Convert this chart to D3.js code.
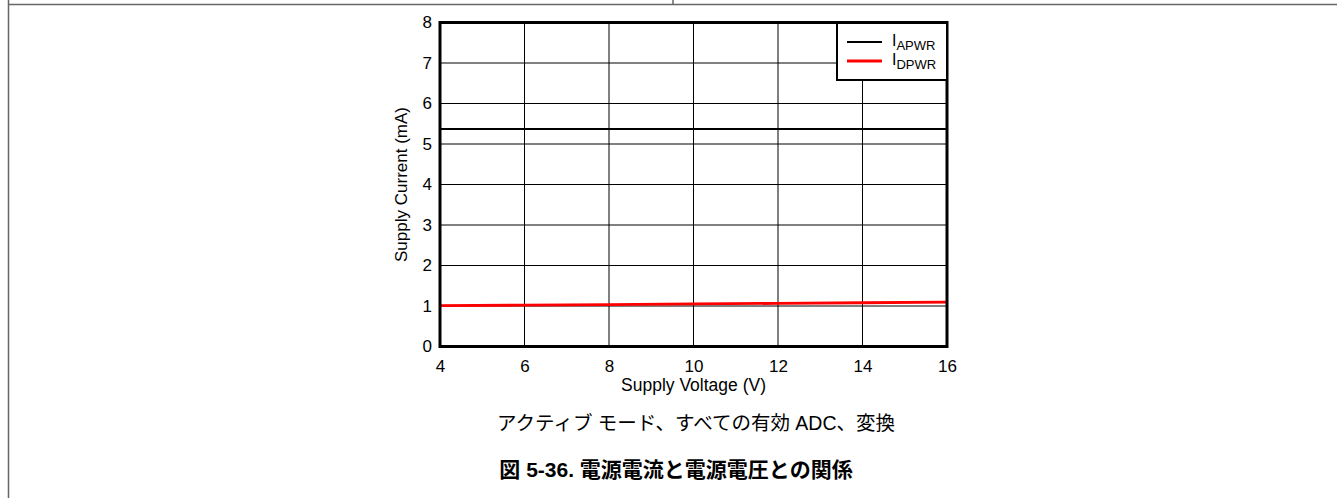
<!DOCTYPE html>
<html>
<head>
<meta charset="utf-8">
<script src="https://cdn.jsdelivr.net/npm/d3@7/dist/d3.min.js"></script>
<style>
  html, body { margin: 0; padding: 0; background: #fff; }
  svg { display: block; }
  text { font-family: "Liberation Sans", Arial, "Noto Sans CJK JP", sans-serif; fill: #000; }
</style>
</head>
<body>
<svg id="chart" width="1337" height="498"></svg>
<script>
// Supply current vs supply voltage
const voltages = [4, 6, 8, 10, 12, 14, 16];
const iApwr = [5.37, 5.37, 5.37, 5.37, 5.37, 5.37, 5.37];
const iDpwr = [1.01, 1.02, 1.035, 1.05, 1.065, 1.08, 1.095];
const xTicks = [4, 6, 8, 10, 12, 14, 16];
const yTicks = [0, 1, 2, 3, 4, 5, 6, 7, 8];
const seriesNames = [["I", "APWR"], ["I", "DPWR"]];
const seriesColors = ["#000000", "#ff0000"];
const xTitle = "Supply Voltage (V)";
const yTitle = "Supply Current (mA)";
const subCaption = "アクティブ モード、すべての有効 ADC、変換";
const figCaption = "図 5-36. 電源電流と電源電圧との関係";

const svg = d3.select("#chart");
const W = 1337, H = 498;

// document frame lines
const frame = svg.append("g").attr("stroke", "#666").attr("stroke-width", 1.5).attr("fill", "none");
frame.append("line").attr("x1", 9).attr("x2", W).attr("y1", 4.5).attr("y2", 4.5);
frame.append("line").attr("x1", 673).attr("x2", 673).attr("y1", 0).attr("y2", 4.5);
frame.append("line").attr("x1", 8.5).attr("x2", 8.5).attr("y1", 0).attr("y2", H);

const plot = { left: 440, right: 947, top: 22.5, bottom: 346.5 };
const x = d3.scaleLinear().domain([4, 16]).range([plot.left, plot.right]);
const y = d3.scaleLinear().domain([0, 8]).range([plot.bottom, plot.top]);

// grid
const grid = svg.append("g").attr("stroke", "#000").attr("stroke-width", 1);
grid.selectAll("line.v").data(xTicks.slice(1, -1)).join("line")
  .attr("x1", d => x(d)).attr("x2", d => x(d)).attr("y1", plot.top).attr("y2", plot.bottom);
grid.selectAll("line.h").data(yTicks.slice(1, -1)).join("line")
  .attr("x1", plot.left).attr("x2", plot.right).attr("y1", d => y(d)).attr("y2", d => y(d));

// axes (labels only, frame drawn as a box)
const xAxis = d3.axisBottom(x).tickValues(xTicks).tickSize(0).tickPadding(13).tickFormat(d3.format("d"));
const yAxis = d3.axisLeft(y).tickValues(yTicks).tickSize(0).tickPadding(8).tickFormat(d3.format("d"));
const gx = svg.append("g").attr("transform", `translate(0,${plot.bottom})`).call(xAxis);
const gy = svg.append("g").attr("transform", `translate(${plot.left},0)`).call(yAxis);
[gx, gy].forEach(g => {
  g.select(".domain").remove();
  g.selectAll("text").attr("font-size", 17).attr("fill", "#111")
    .style("font-family", '"Liberation Sans", Arial, sans-serif');
});

// series lines
const line = d3.line().x(d => x(d[0])).y(d => y(d[1]));
const series = [iApwr, iDpwr];
series.forEach((vals, i) => {
  svg.append("path")
    .datum(voltages.map((v, k) => [v, vals[k]]))
    .attr("d", line)
    .attr("fill", "none")
    .attr("stroke", seriesColors[i])
    .attr("stroke-width", i === 0 ? 2.2 : 2.8);
});

// plot frame
svg.append("rect")
  .attr("x", plot.left).attr("y", plot.top)
  .attr("width", plot.right - plot.left).attr("height", plot.bottom - plot.top)
  .attr("fill", "none").attr("stroke", "#000").attr("stroke-width", 3);

// legend
const lg = svg.append("g");
lg.append("rect").attr("x", 837).attr("y", 23).attr("width", 110).attr("height", 57)
  .attr("fill", "#fff").attr("stroke", "#000").attr("stroke-width", 2);
seriesNames.forEach((nm, i) => {
  const ly = 42 + i * 19;
  lg.append("line").attr("x1", 847).attr("x2", 882).attr("y1", ly).attr("y2", ly)
    .attr("stroke", seriesColors[i]).attr("stroke-width", i === 0 ? 2.2 : 2.8);
  const t = lg.append("text").attr("x", 892).attr("y", ly + 4).attr("font-size", 16).attr("fill", "#111");
  t.append("tspan").text(nm[0]);
  t.append("tspan").attr("dy", 4).attr("font-size", 13).text(nm[1]);
});

// axis titles
svg.append("text").attr("x", (plot.left + plot.right) / 2).attr("y", 391)
  .attr("text-anchor", "middle").attr("font-size", 17.5).attr("fill", "#111").text(xTitle);
svg.append("text").attr("transform", `translate(407,${(plot.top + plot.bottom) / 2}) rotate(-90)`)
  .attr("text-anchor", "middle").attr("font-size", 17).attr("fill", "#111").text(yTitle);

// captions
svg.append("text").attr("x", 696).attr("y", 430)
  .attr("text-anchor", "middle").attr("font-size", 19.5).attr("fill", "#222").text(subCaption);
svg.append("text").attr("x", 676).attr("y", 477)
  .attr("text-anchor", "middle").attr("font-size", 21).attr("font-weight", "bold").attr("fill", "#000").text(figCaption);
</script>
</body>
</html>
